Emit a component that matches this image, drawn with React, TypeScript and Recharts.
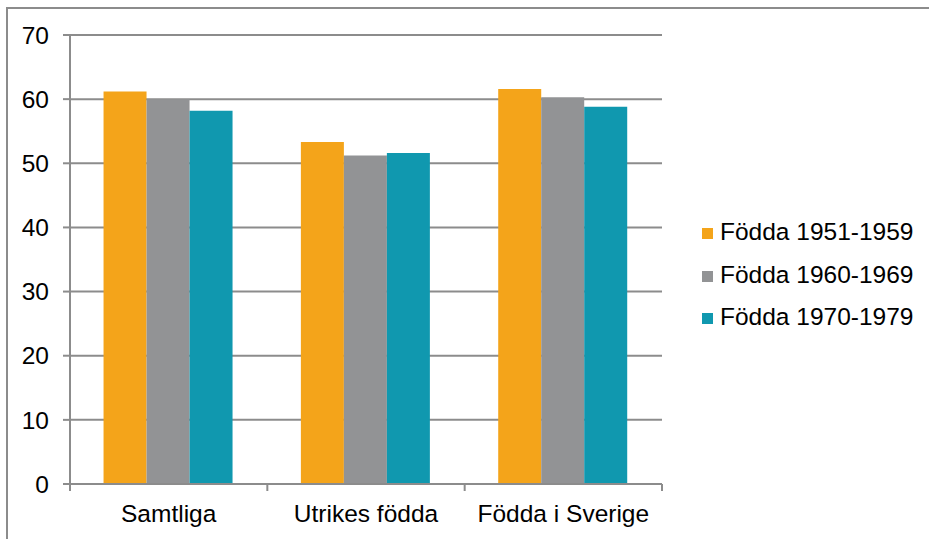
import React from 'react';
import { BarChart, Bar, XAxis, YAxis, CartesianGrid, Legend } from 'recharts';

const categories = ['Samtliga', 'Utrikes födda', 'Födda i Sverige'];
const series1951 = [61.2, 53.3, 61.6];
const series1960 = [60.0, 51.2, 60.3];
const series1970 = [58.2, 51.6, 58.8];
const seriesNames = ['Födda 1951-1959', 'Födda 1960-1969', 'Födda 1970-1979'];
const yTicks = [0, 10, 20, 30, 40, 50, 60, 70];

const COLORS = ['#F4A41A', '#929395', '#1098AF'];
const AXIS = '#8c8c8c';
const FONT = '"Liberation Sans", Arial, sans-serif';
const FS = 24.5;

const data = categories.map((name, i) => ({
  name,
  a: series1951[i],
  b: series1960[i],
  c: series1970[i],
}));

const CatTick = (props: any) => {
  const { x, y, payload, width, visibleTicksCount, index } = props;
  const count = visibleTicksCount || categories.length;
  const bw = width ? Number(width) / count : (payload.offset || 0) * 2;
  return (
    <g>
      <line x1={x - bw / 2} y1={y} x2={x - bw / 2} y2={y + 7} stroke={AXIS} strokeWidth={2} />
      {index === count - 1 && (
        <line x1={x + bw / 2} y1={y} x2={x + bw / 2} y2={y + 7} stroke={AXIS} strokeWidth={2} />
      )}
      <text x={x} y={y + 21} dy="0.71em" textAnchor="middle" fontSize={FS} fontFamily={FONT} fill="#000">
        {payload.value}
      </text>
    </g>
  );
};

const LegendContent = (props: any) => {
  const { payload } = props;
  return (
    <div style={{ fontFamily: FONT, fontSize: FS, color: '#000' }}>
      {(payload || []).map((entry: any, i: number) => (
        <div key={i} style={{ display: 'flex', alignItems: 'center', height: 42.7, lineHeight: '42.7px' }}>
          <div style={{ width: 11, height: 11, background: entry.color, marginRight: 7, marginTop: 2 }} />
          <span style={{ whiteSpace: 'nowrap' }}>{entry.value}</span>
        </div>
      ))}
    </div>
  );
};

export default function App() {
  return (
    <div style={{ position: 'absolute', left: 0, top: 0, width: 929, height: 539, background: '#fff', overflow: 'hidden' }}>
      <div
        style={{
          position: 'absolute',
          left: 6,
          top: 7,
          width: 1000,
          height: 1000,
          borderTop: `2px solid ${AXIS}`,
          borderLeft: `2px solid ${AXIS}`,
          boxSizing: 'border-box',
        }}
      />
      <div style={{ position: 'absolute', left: 0, top: 0 }}>
        <BarChart
          width={929}
          height={539}
          data={data}
          margin={{ top: 35, right: 267, left: 0, bottom: 0 }}
          barCategoryGap="17%"
          barGap={0}
        >
          <CartesianGrid vertical={false} stroke={AXIS} strokeWidth={2} />
          <XAxis
            dataKey="name"
            interval={0}
            height={55}
            tickSize={0}
            tickMargin={0}
            tickLine={false}
            axisLine={{ stroke: AXIS, strokeWidth: 2 }}
            tick={<CatTick />}
          />
          <YAxis
            width={70}
            domain={[0, 70]}
            ticks={yTicks}
            interval={0}
            tickSize={7}
            tickMargin={14}
            axisLine={{ stroke: AXIS, strokeWidth: 2 }}
            tickLine={{ stroke: AXIS, strokeWidth: 2 }}
            tick={{ fontSize: FS, fontFamily: FONT, fill: '#000' }}
          />
          <Legend
            layout="vertical"
            align="center"
            verticalAlign="middle"
            wrapperStyle={{ left: 702, top: 211, width: 227 }}
            content={<LegendContent />}
          />
          <Bar dataKey="a" name={seriesNames[0]} fill={COLORS[0]} isAnimationActive={false} />
          <Bar dataKey="b" name={seriesNames[1]} fill={COLORS[1]} isAnimationActive={false} />
          <Bar dataKey="c" name={seriesNames[2]} fill={COLORS[2]} isAnimationActive={false} />
        </BarChart>
      </div>
    </div>
  );
}
